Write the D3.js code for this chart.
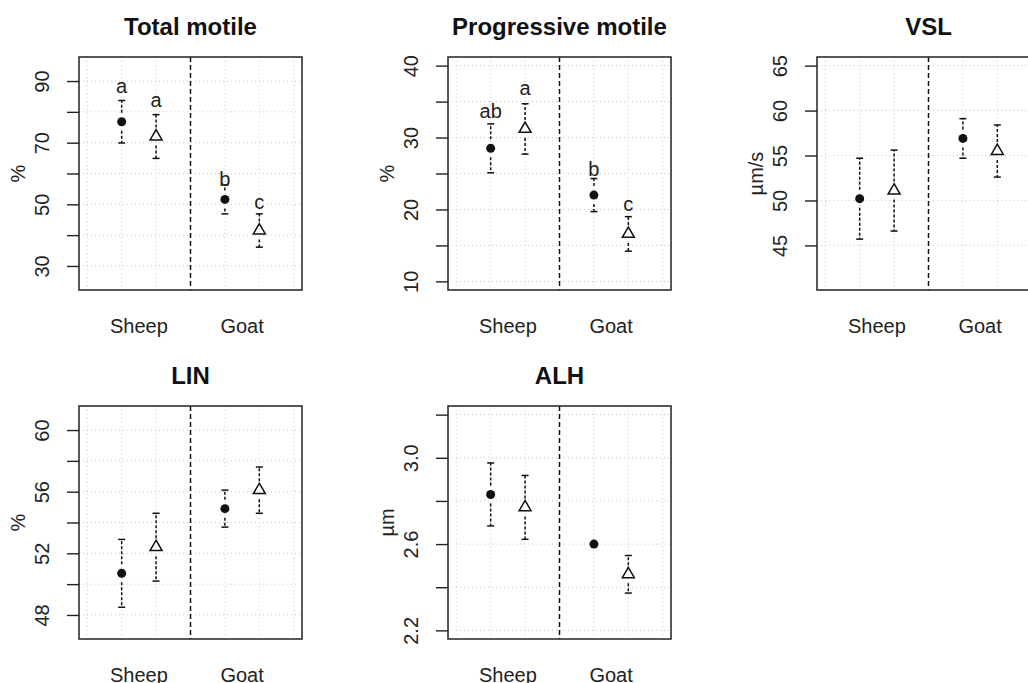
<!DOCTYPE html>
<html>
<head>
<meta charset="utf-8">
<script src="https://cdn.jsdelivr.net/npm/d3@7"></script>
<style>
  body { margin: 0; background: #fff; }
  svg { display: block; font-family: "Liberation Sans", Arial, sans-serif; }
</style>
</head>
<body>
<svg id="chart" width="1028" height="683"></svg>
<script>
// groups on the x axis, two treatments each (filled circle, open triangle)
const groups = ['Sheep', 'Goat'];

const titles = ['Total motile', 'Progressive motile', 'VSL', 'LIN', 'ALH'];
const yLabels = ['%', '%', 'µm/s', '%', 'µm'];

// means / error, order: sheep-circle, sheep-triangle, goat-circle, goat-triangle
const totalMean = [76.8, 72.0, 51.6, 41.5];
const totalErr  = [6.9, 7.1, 4.7, 5.4];
const progMean  = [28.5, 31.2, 22.0, 16.6];
const progErr   = [3.4, 3.5, 2.3, 2.4];
const vslMean   = [50.2, 51.1, 56.9, 55.5];
const vslErr    = [4.5, 4.5, 2.2, 2.9];
const linMean   = [50.7, 52.4, 54.9, 56.1];
const linErr    = [2.2, 2.2, 1.2, 1.5];
const alhMean   = [2.83, 2.77, 2.60, 2.46];
const alhErr    = [0.146, 0.148, 0.02, 0.087];

// significance letters and the value where they sit
const totalLetters = ['a', 'a', 'b', 'c'];
const totalLetterY = [88.5, 83.7, 58.3, 50.6];
const progLetters  = ['ab', 'a', 'b', 'c'];
const progLetterY  = [33.7, 36.9, 25.6, 20.8];

// axis limits and ticks
const yLims = [[25, 95], [10, 40], [41, 65], [47, 61], [2.2, 3.2]];
const yTicks = [
  [30, 40, 50, 60, 70, 80, 90],
  [10, 15, 20, 25, 30, 35, 40],
  [45, 50, 55, 60, 65],
  [48, 50, 52, 54, 56, 58, 60],
  [2.2, 2.4, 2.6, 2.8, 3.0, 3.2]
];
const yTickLabels = [
  [30, 50, 70, 90],
  [10, 20, 30, 40],
  [45, 50, 55, 60, 65],
  [48, 52, 56, 60],
  [2.2, 2.6, 3.0]
];
const xLim = [0, 6];
const xGrid = [0, 1, 2, 3, 4, 5, 6];

const panels = titles.map((t, i) => ({
  title: t,
  yLabel: yLabels[i],
  mean: [totalMean, progMean, vslMean, linMean, alhMean][i],
  err: [totalErr, progErr, vslErr, linErr, alhErr][i],
  letters: [totalLetters, progLetters, null, null, null][i],
  letterY: [totalLetterY, progLetterY, null, null, null][i],
  ylim: yLims[i],
  ticks: yTicks[i],
  tickLabels: yTickLabels[i],
  digits: i === 4 ? 1 : 0
}));

// R style 4% padding on each side
const pad = ([a, b]) => [a - (b - a) * 0.04, b + (b - a) * 0.04];

const errorPanel = (parent, props) => {
  const { p, innerWidth, innerHeight } = props;

  const x = d3.scaleLinear().domain(pad(xLim)).range([0, innerWidth]);
  const y = d3.scaleLinear().domain(pad(p.ylim)).range([innerHeight, 0]);

  // grid
  parent.selectAll('.vgrid').data(xGrid).join('line')
    .attr('class', 'vgrid')
    .attr('x1', d => x(d)).attr('x2', d => x(d))
    .attr('y1', 0).attr('y2', innerHeight)
    .attr('stroke', '#c8c8c8').attr('stroke-dasharray', '1,3');
  parent.selectAll('.hgrid').data(p.ticks).join('line')
    .attr('class', 'hgrid')
    .attr('x1', 0).attr('x2', innerWidth)
    .attr('y1', d => y(d)).attr('y2', d => y(d))
    .attr('stroke', '#c8c8c8').attr('stroke-dasharray', '1,3');

  // separator between groups
  parent.append('line')
    .attr('x1', x(3)).attr('x2', x(3))
    .attr('y1', 0).attr('y2', innerHeight)
    .attr('stroke', '#111').attr('stroke-width', 1.5)
    .attr('stroke-dasharray', '5,3');

  // y axis (R drops labels that would overlap, so some ticks stay bare)
  const isLabelled = d => p.tickLabels.some(v => Math.abs(v - d) < 1e-9);
  const yAxis = d3.axisLeft(y).tickValues(p.ticks).tickSize(12)
    .tickFormat(d => d.toFixed(p.digits));
  const ax = parent.append('g').call(yAxis);
  ax.select('.domain').remove();
  ax.selectAll('.tick line').attr('stroke', '#222').attr('stroke-width', 1.4);
  ax.selectAll('.tick').filter(d => !isLabelled(d)).select('text').remove();
  ax.selectAll('.tick text')
    .attr('font-size', 20).attr('fill', '#222')
    .attr('transform', 'rotate(-90)')
    .attr('x', 0).attr('y', -30)
    .attr('dy', '0')
    .attr('text-anchor', 'middle');

  // y label
  parent.append('text')
    .attr('transform', `translate(-61,${innerHeight / 2}) rotate(-90)`)
    .attr('dy', '0.35em')
    .attr('text-anchor', 'middle')
    .attr('font-size', 20).attr('fill', '#222')
    .text(p.yLabel);

  // title
  parent.append('text')
    .attr('x', innerWidth / 2).attr('y', -30)
    .attr('dy', '0.35em')
    .attr('text-anchor', 'middle')
    .attr('font-size', 24).attr('font-weight', 'bold').attr('fill', '#111')
    .text(p.title);

  // group labels
  parent.selectAll('.glabel').data(groups).join('text')
    .attr('class', 'glabel')
    .attr('x', (d, i) => x(i * 3 + 1.5))
    .attr('y', innerHeight + 36)
    .attr('dy', '0.35em')
    .attr('text-anchor', 'middle')
    .attr('font-size', 20).attr('fill', '#222')
    .text(d => d);

  const pts = p.mean.map((m, i) => ({
    m, e: p.err[i],
    xv: Math.floor(i / 2) * 3 + (i % 2) + 1,
    filled: i % 2 === 0,
    letter: p.letters ? p.letters[i] : null,
    ly: p.letterY ? p.letterY[i] : null
  }));

  // error bars with a gap round the marker
  const gap = 9, cap = 3.5;
  const bars = parent.selectAll('.bar').data(pts).join('g').attr('class', 'bar');
  bars.each(function (d) {
    const g = d3.select(this);
    const cx = x(d.xv), cy = y(d.m);
    [y(d.m + d.e), y(d.m - d.e)].forEach(end => {
      if (Math.abs(end - cy) <= gap) return;
      const start = end < cy ? cy - gap : cy + gap;
      g.append('line')
        .attr('x1', cx).attr('x2', cx).attr('y1', start).attr('y2', end)
        .attr('stroke', '#111').attr('stroke-width', 1.5)
        .attr('stroke-dasharray', '3,2');
      g.append('line')
        .attr('x1', cx - cap).attr('x2', cx + cap).attr('y1', end).attr('y2', end)
        .attr('stroke', '#111').attr('stroke-width', 1.5);
    });
  });

  // markers
  parent.selectAll('.pt').data(pts).join('path')
    .attr('class', 'pt')
    .attr('transform', d => `translate(${x(d.xv)},${y(d.m)})`)
    .attr('d', d => d.filled
      ? d3.symbol(d3.symbolCircle, Math.PI * 4.5 * 4.5)()
      : d3.symbol(d3.symbolTriangle, 62)())
    .attr('fill', d => d.filled ? '#111' : 'none')
    .attr('stroke', '#111')
    .attr('stroke-width', d => d.filled ? 0 : 1.5);

  // letters
  parent.selectAll('.letter').data(pts.filter(d => d.letter)).join('text')
    .attr('class', 'letter')
    .attr('x', d => x(d.xv))
    .attr('y', d => y(d.ly))
    .attr('dy', '0.35em')
    .attr('text-anchor', 'middle')
    .attr('font-size', 20).attr('fill', '#222')
    .text(d => d.letter);

  // box
  parent.append('rect')
    .attr('width', innerWidth).attr('height', innerHeight)
    .attr('fill', 'none').attr('stroke', '#222').attr('stroke-width', 1.5);
};

const svg = d3.select('#chart');
const cellW = 369, cellH = 349;
const margin = { left: 79, top: 57 };
const innerWidth = 223, innerHeight = 233;

panels.forEach((p, i) => {
  const col = i % 3, row = Math.floor(i / 3);
  const g = svg.append('g')
    .attr('transform', `translate(${margin.left + col * cellW},${margin.top + row * cellH})`);
  errorPanel(g, { p, innerWidth, innerHeight });
});
</script>
</body>
</html>
